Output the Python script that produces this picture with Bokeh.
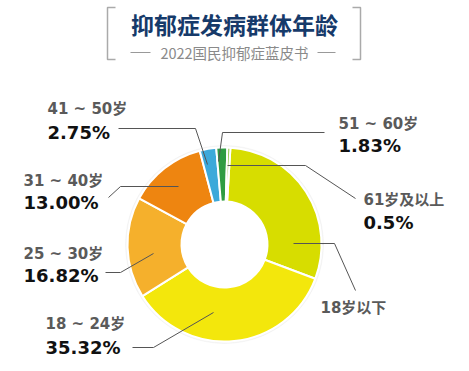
import math
from bokeh.plotting import figure
from bokeh.models import Range1d, ColumnDataSource
from bokeh.embed import file_html
from bokeh.resources import INLINE
from bokeh.core.properties import value

# ---------------- data ----------------
categories = ["18岁以下", "18 ~ 24岁", "25 ~ 30岁", "31 ~ 40岁", "41 ~ 50岁", "51 ~ 60岁", "61岁及以上"]
shares = [29.78, 35.32, 16.82, 13.00, 2.75, 1.83, 0.5]
pct_labels = ["", "35.32%", "16.82%", "13.00%", "2.75%", "1.83%", "0.5%"]
colors = ["#d7dd00", "#f3e70c", "#f5b02c", "#ee8510", "#3ca9da", "#2f9c42", "#8cc43c"]
title_text = "抑郁症发病群体年龄"
subtitle_text = "2022国民抑郁症蓝皮书"

# ---------------- layout ----------------
W, H = 461, 363
def Y(y):  # page pixel row -> data y
    return 371 - y

CX, CY = 224, Y(244)
R_IN, R_OUT = 43, 97
OFFSET = math.radians(3.5)

# label anchor (left x, page y of age line, page y of pct line)
label_pos = [
    (320, 307, None),
    (45, 323, 347),
    (23, 253, 275),
    (23, 180, 202),
    (47, 108, 132),
    (338, 123, 145),
    (363, 199, 222),
]
# leader polylines (page coords)
leaders = [
    [(293, 243), (334, 243), (355, 290)],
    [(213, 312), (153, 347), (132, 347)],
    [(153, 253), (120, 272), (105, 272)],
    [(178, 186), (120, 186), (108, 197)],
    [(207, 164), (195, 128), (118, 128)],
    [(218, 161), (222, 132), (324, 132)],
    [(227, 165), (305, 165), (355, 198)],
]

p = figure(width=W, height=H, x_range=Range1d(0, W), y_range=Range1d(Y(H), Y(0)),
           output_backend="svg", toolbar_location=None, min_border=0)
p.axis.visible = False
p.grid.visible = False
p.outline_line_color = None
p.background_fill_color = "white"

# donut
starts, ends = [], []
cum = 0.0
for s in shares:
    a0 = math.pi / 2 - OFFSET - cum / 100 * 2 * math.pi
    cum += s
    a1 = math.pi / 2 - OFFSET - cum / 100 * 2 * math.pi
    starts.append(a0)
    ends.append(a1)
src = ColumnDataSource(dict(start=starts, end=ends, color=colors, cat=categories))

# soft shadow
p.annular_wedge(x=CX, y=CY, inner_radius=R_OUT - 1, outer_radius=R_OUT + 2, start_angle=0,
                end_angle=2 * math.pi, color="#000000", alpha=0.03)
p.annular_wedge(x=CX, y=CY, inner_radius=R_IN, outer_radius=R_OUT, start_angle="start",
                end_angle="end", direction="clock", fill_color="color", line_color="white",
                line_width=2, source=src)

# leaders
p.multi_line(xs=[[pt[0] for pt in l] for l in leaders], ys=[[Y(pt[1]) for pt in l] for l in leaders],
             line_color="#555555", line_width=1)

FONT = value("DejaVu Sans, Noto Sans CJK SC")
ax = [lp[0] for lp in label_pos]
ay = [Y(lp[1]) for lp in label_pos]
p.text(x=ax, y=ay, text=categories, text_font=FONT, text_font_size="15px",
       text_color="#5a5a5a", text_baseline="middle", text_align="left", text_font_style="bold")
px = [lp[0] for lp, t in zip(label_pos, pct_labels) if t]
py = [Y(lp[2]) for lp, t in zip(label_pos, pct_labels) if t]
pt_ = [t for t in pct_labels if t]
p.text(x=px, y=py, text=pt_, text_font=FONT, text_font_size="18px",
       text_color="#111111", text_baseline="middle", text_align="left", text_font_style="bold")

# title block
p.text(x=[234], y=[Y(23)], text=[title_text], text_font=value("Noto Sans CJK SC"),
       text_font_size="23px", text_font_style="bold", text_color="#163a6a",
       text_align="center", text_baseline="middle")
p.text(x=[234], y=[Y(52)], text=[subtitle_text], text_font=value("Noto Sans CJK SC"),
       text_font_size="14.5px", text_color="#8a8a8a", text_align="center", text_baseline="middle")
p.multi_line(xs=[[130, 150], [317, 335]], ys=[[Y(52), Y(52)], [Y(52), Y(52)]],
             line_color="#999999", line_width=1)
p.multi_line(xs=[[115, 107, 107, 115], [352, 360, 360, 352]],
             ys=[[Y(7), Y(7), Y(59), Y(59)], [Y(7), Y(7), Y(59), Y(59)]],
             line_color="#aaaaaa", line_width=1.5)

open("out.html", "w").write(file_html(p, INLINE))
